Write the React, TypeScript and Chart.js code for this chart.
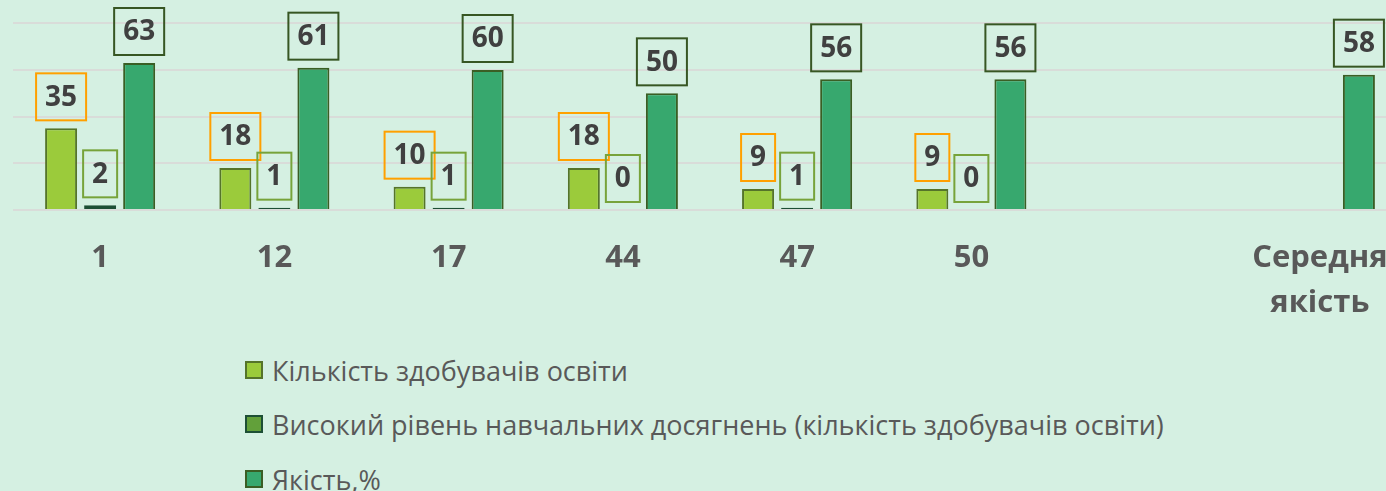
import React, { useEffect, useRef } from 'react';
import { Chart, registerables } from 'chart.js';

Chart.register(...registerables);

const categories: (string | string[])[] = ['1', '12', '17', '44', '47', '50', '', ['Середня', 'якість']];
const studentCount = [35, 18, 10, 18, 9, 9, null, null];
const highLevel = [2, 1, 1, 0, 1, 0, null, null];
const quality = [63, 61, 60, 50, 56, 56, null, 58];
const seriesNames = [
  'Кількість здобувачів освіти',
  'Високий рівень навчальних досягнень (кількість здобувачів освіти)',
  'Якість,%',
];
const yMax = 90;
const yStep = 20;

const fills = ['#9bcb3b', '#62a03a', '#37a86e'];
const borders = ['#55742a', '#1d4f35', '#3a5e24'];
const labelBorders = ['#ffa000', '#77a33a', '#375623'];

const boxLabels = {
  id: 'boxLabels',
  afterDatasetsDraw(chart: any) {
    const ctx = chart.ctx;
    chart.data.datasets.forEach((ds: any, di: number) => {
      const meta = chart.getDatasetMeta(di);
      meta.data.forEach((el: any, i: number) => {
        const v = ds.data[i];
        if (v == null) return;
        const text = String(v);
        ctx.save();
        ctx.font = 'bold 28px "Open Sans"';
        const tw = ctx.measureText(text).width;
        const w = tw + 18;
        const h = 47;
        const x = el.x - w / 2;
        const y = el.y - 8 - h;
        ctx.strokeStyle = labelBorders[di];
        ctx.lineWidth = 2;
        ctx.strokeRect(x, y, w, h);
        ctx.fillStyle = '#404040';
        ctx.textAlign = 'center';
        ctx.textBaseline = 'middle';
        ctx.fillText(text, el.x, y + h / 2 + 1);
        ctx.restore();
      });
    });
  },
};

export default function App() {
  const ref = useRef<HTMLCanvasElement>(null);
  useEffect(() => {
    if (!ref.current) return;
    const series = [studentCount, highLevel, quality];
    const chart = new Chart(ref.current, {
      type: 'bar',
      data: {
        labels: categories as any,
        datasets: series.map((d, i) => ({
          label: seriesNames[i],
          data: d as any,
          backgroundColor: fills[i],
          borderColor: borders[i],
          borderWidth: 2,
          borderSkipped: i === 1 ? false : 'start',
          categoryPercentage: 0.672,
          barPercentage: 0.82,
        })),
      },
      options: {
        responsive: false,
        animation: false,
        devicePixelRatio: 1,
        layout: { padding: { left: 13, right: 13, top: 0, bottom: 0 } },
        plugins: { legend: { display: false }, tooltip: { enabled: false } },
        scales: {
          x: {
            grid: { display: false },
            border: { display: false },
            ticks: {
              color: '#595959',
              font: { family: '"Open Sans"', size: 31, weight: 'bold', lineHeight: 1.45 },
              padding: 18,
              maxRotation: 0,
              autoSkip: false,
            },
            afterFit: (s: any) => { s.height = 120; },
          },
          y: {
            min: 0,
            max: yMax,
            ticks: { display: false, stepSize: yStep },
            border: { display: false },
            grid: {
              drawTicks: false,
              lineWidth: 2,
              color: (c: any) => (c.tick && c.tick.value % yStep === 0 ? '#d9dcd9' : 'rgba(0,0,0,0)'),
            },
            afterFit: (s: any) => { s.width = 0; },
          },
        },
      },
      plugins: [boxLabels],
    } as any);
    return () => chart.destroy();
  }, []);

  const legendTops = [370, 424, 479];
  return (
    <div style={{ position: 'fixed', left: 0, top: 0, width: 1386, height: 491, overflow: 'hidden', background: '#d5f0e2' }}>
      <canvas ref={ref} width={1420} height={330} style={{ position: 'absolute', left: 0, top: 0 }} />
      {seriesNames.map((n, i) => (
        <div
          key={n}
          style={{
            position: 'absolute',
            left: 245,
            top: legendTops[i] - 19,
            height: 38,
            display: 'flex',
            alignItems: 'center',
            whiteSpace: 'nowrap',
            fontFamily: '"Open Sans"',
            fontSize: 27,
            color: '#595959',
          }}
        >
          <span style={{ display: 'inline-block', width: 18, height: 18, boxSizing: 'border-box', background: fills[i], border: `2px solid ${borders[i]}`, marginRight: 9 }} />
          <span>{n}</span>
        </div>
      ))}
    </div>
  );
}
